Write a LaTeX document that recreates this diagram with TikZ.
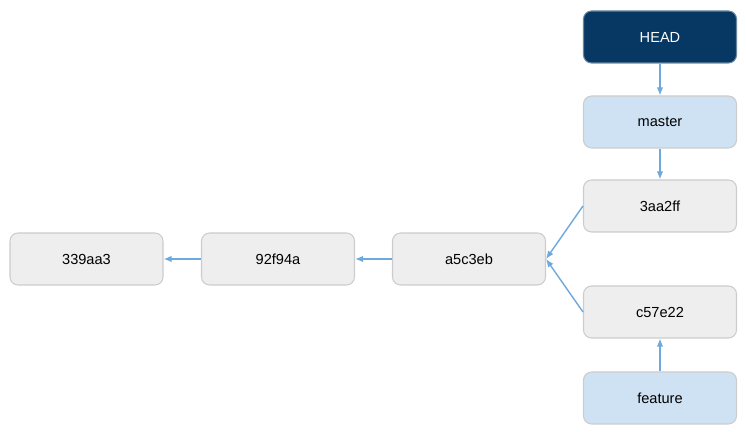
\documentclass[tikz,border=0pt]{standalone}
\usepackage{fontspec}
\setmainfont{Liberation Sans}
\usetikzlibrary{arrows.meta}
\definecolor{commit fill}{HTML}{EEEEEE}
\definecolor{commit edge}{HTML}{CCCCCC}
\definecolor{branch fill}{HTML}{CFE2F3}
\definecolor{head fill}{HTML}{073763}
\definecolor{link}{HTML}{6FA8DC}
\tikzset{commit/.style={draw=commit edge, fill=commit fill, semithick, rounded corners=0.16cm,
        minimum width=3.06cm, minimum height=1.04cm, font=\fontsize{8.3}{10}\selectfont},
    branch/.style={commit, fill=branch fill},
    headref/.style={commit, draw=head fill!60!white, fill=head fill, text=white},
    link/.style={draw=link, thick, -{Latex[length=0.16cm, width=0.13cm]}}}

\begin{document}
\begin{tikzpicture}
    \useasboundingbox (0,0) rectangle (14.92,8.64);
    % commits
    \node[commit] (c339) at (1.73,3.46) {339aa3};
    \node[commit] (c92f) at (5.56,3.46) {92f94a};
    \node[commit] (ca5c) at (9.38,3.46) {a5c3eb};
    \node[commit] (c3aa) at (13.2,4.52) {3aa2ff};
    \node[commit] (cc57) at (13.2,2.40) {c57e22};
    % refs
    \node[branch]  (master)  at (13.2,6.20) {master};
    \node[branch]  (feature) at (13.2,0.68) {feature};
    \node[headref] (head)    at (13.2,7.90) {HEAD};
    \draw[link] (head) -- (master);
    \draw[link] (master) -- (c3aa);
    \draw[link] (feature) -- (cc57);
    \draw[link] (c3aa.west) -- (ca5c.east);
    \draw[link] (cc57.west) -- (ca5c.east);
    \draw[link] (ca5c) -- (c92f);
    \draw[link] (c92f) -- (c339);
\end{tikzpicture}
\end{document}
